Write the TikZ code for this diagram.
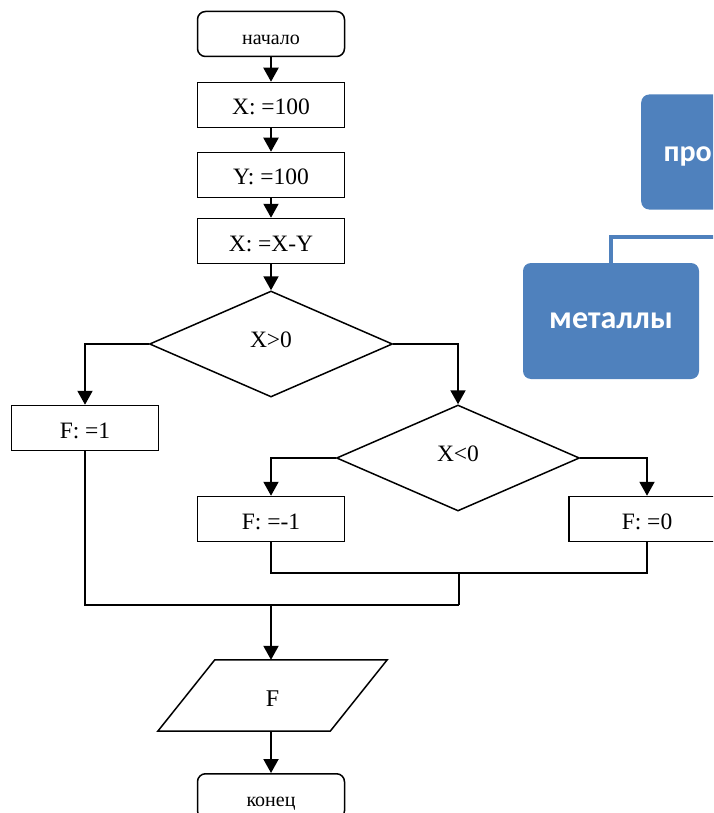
\documentclass[tikz,border=0pt]{standalone}
\usepackage{fontspec}
\setmainfont{Liberation Serif}
\newfontfamily\groupfont{Carlito}
\usetikzlibrary{shapes.geometric,arrows.meta}
\definecolor{groupblue}{HTML}{4F81BD}
\begin{document}
\begin{tikzpicture}[x=1pt,y=-1pt,>={Triangle[length=14pt,width=15pt]},
    box/.style={draw,line width=1.5pt,minimum width=147pt,minimum height=45pt,inner sep=0pt,text height=20pt,text depth=0pt,font=\fontsize{23.5}{25}\selectfont},
    term/.style={box,rounded corners=8pt,text height=21pt,font=\fontsize{20}{22}\selectfont},
    cond/.style={draw,diamond,line width=1.5pt,minimum width=243pt,minimum height=106pt,inner sep=0pt},
    label/.style={font=\fontsize{23.5}{25}\selectfont},
    io/.style={minimum width=172pt,minimum height=71pt,inner sep=0pt,text height=21pt,text depth=0pt,font=\fontsize{24}{26}\selectfont},
    flow/.style={->,line width=2pt},
    mergeline/.style={line width=1.5pt},
    groupbox/.style={fill=groupblue,rounded corners=8pt,inner sep=0pt,text=white,font=\groupfont\bfseries\fontsize{32}{34}\selectfont},
    grouplink/.style={draw=groupblue,line width=4pt}]
\clip (0,0) rectangle (713,813);

\node[term] (start) at (271,34) {начало};
\node[box] (x1) at (271,105) {X: =100};
\node[box] (y1) at (271,175) {Y: =100};
\node[box] (x2) at (271,241) {X: =X-Y};
\node[cond] (c1) at (271,344) {};
\node[label] (c1text) at (271,340) {X>0};
\node[box] (f1) at (85,428) {F: =1};
\node[cond] (c2) at (458,458) {};
\node[label] (c2text) at (458,454) {X<0};
\node[box] (f2) at (271,519) {F: =-1};
\node[box,minimum width=156pt] (f3) at (647,519) {F: =0};
\node[io] (out) at (272.5,695.5) {F};
\draw[mergeline] ([xshift=28.5pt]out.north west) -- ([xshift=28.5pt]out.north east)
    -- ([xshift=-28.5pt]out.south east) -- ([xshift=-28.5pt]out.south west) -- cycle;
\node[term,anchor=north] (stop) at (271,773) {конец};

\coordinate (m2) at (459,573);
\coordinate (m1) at (459,605);
\coordinate (j) at (271,605);

\draw[flow] (start) -- (x1);
\draw[flow] (x1) -- (y1);
\draw[flow] (y1) -- (x2);
\draw[flow] (x2) -- (c1);
\draw[flow] (c1.west) -| (f1.north);
\draw[flow] (c1.east) -| (c2.north);
\draw[flow] (c2.west) -| (f2.north);
\draw[flow] (c2.east) -| (f3.north);
\draw[mergeline] (f2.south) |- (m2) -| (f3.south);
\draw[mergeline] (m2) -- (m1);
\draw[mergeline] (f1.south) |- (m1);
\draw[flow] (j) -- (j |- out.north);
\draw[flow] (out.south -| stop) -- (stop);

% right part
\node[groupbox,minimum width=176pt,minimum height=116pt] (metals) at (611,321) {металлы};
\node[groupbox,anchor=west,minimum width=150pt,minimum height=115pt] (top) at (641,152) {};
\node[anchor=east,inner sep=0pt,text=white,font=\groupfont\bfseries\fontsize{30}{32}\selectfont] (toptext) at (712,156) {про};
\coordinate (tee) at (720,237);
\draw[grouplink] (metals.north) |- (tee);
\end{tikzpicture}
\end{document}
